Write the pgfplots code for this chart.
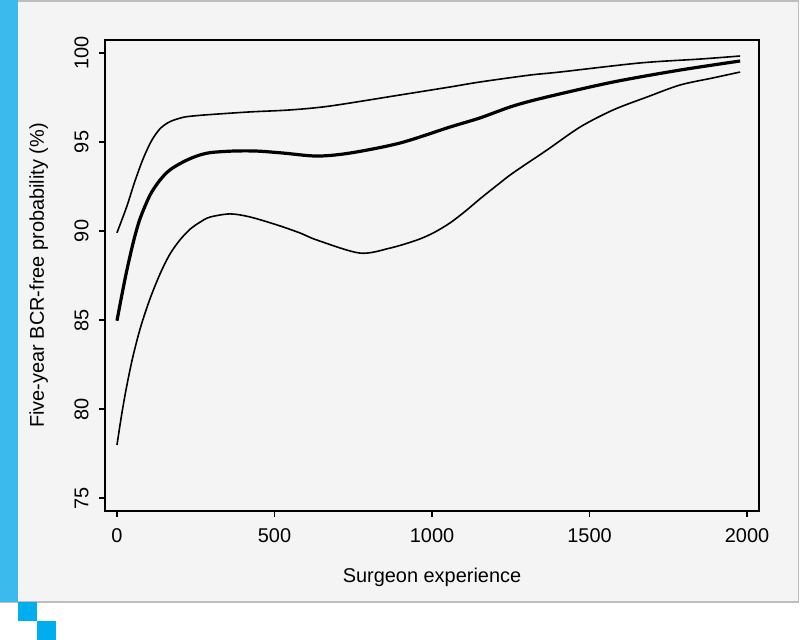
\documentclass[border=0pt]{standalone}
\usepackage{fontspec}
\setmainfont{Liberation Sans}
\usepackage{pgfplots}
\pgfplotsset{compat=1.18}
\definecolor{panel}{HTML}{F4F4F4}
\definecolor{panelborder}{HTML}{BDBDBD}
\definecolor{bluebar}{HTML}{3BBBED}
\definecolor{bluesq}{HTML}{00AEEF}
\begin{document}
\fontsize{10}{12}\selectfont
\begin{tikzpicture}
\useasboundingbox (0,0) rectangle (400bp,320bp);
\fill[panel] (0,19bp) rectangle (399.5bp,320bp);
\draw[panelborder, line width=0.8bp] (0,19bp) -- (399.3bp,19bp) -- (399.3bp,319.6bp) -- (0,319.6bp);
\fill[bluebar] (0,19bp) rectangle (9bp,320bp);
\fill[bluesq] (9bp,9.5bp) rectangle (18.5bp,19bp);
\fill[bluesq] (18.5bp,0) rectangle (28bp,9.5bp);
\begin{axis}[
  at={(52.5bp,64.5bp)}, anchor=south west,
  width=327bp, height=235.5bp, scale only axis,
  xmin=-38, xmax=2038, ymin=74.27, ymax=100.73,
  axis line style={line width=1bp},
  xtick={0,500,1000,1500,2000}, ytick={75,80,85,90,95,100},
  xtick pos=bottom, ytick pos=left,
  tick align=outside, major tick length=3bp,
  every tick/.style={black, line width=0.8bp},
  scaled ticks=false,
  /pgf/number format/1000 sep={},
  /pgf/number format/assume math mode=true,
  xticklabel style={anchor=north, inner sep=0pt, yshift=-5.5bp},
  yticklabel style={xshift=-5bp, rotate=90, anchor=south, inner sep=0pt},
  xlabel={Surgeon experience},
  ylabel={Five-year BCR-free probability (\%)},
  xlabel style={at={(axis description cs:0.5,-0.151)}, anchor=base, inner sep=0pt},
  ylabel style={at={(axis description cs:-0.0933,0.5)}, anchor=base, inner sep=0pt},
]
\addplot[black, line width=0.8bp, smooth] table {
x y
0 89.90
31 91.37
57 92.80
84 94.10
110 95.08
137 95.75
168 96.14
211 96.39
253 96.48
295 96.54
422 96.69
549 96.80
676 97.02
898 97.64
1057 98.09
1152 98.37
1311 98.76
1406 98.93
1660 99.44
1851 99.66
1978 99.83
};
\addplot[black, line width=1.6bp, smooth] table {
x y
0 84.96
16 86.45
32 87.85
53 89.45
73 90.68
105 92.02
137 92.87
168 93.43
211 93.89
253 94.21
295 94.40
368 94.49
444 94.49
527 94.38
635 94.21
740 94.38
898 94.94
1057 95.84
1152 96.35
1257 97.02
1365 97.53
1575 98.37
1787 99.04
1978 99.55
};
\addplot[black, line width=0.8bp, smooth] table {
x y
0 77.98
15 79.70
30 81.20
50 82.90
75 84.60
105 86.20
137 87.60
168 88.70
200 89.50
232 90.10
264 90.50
295 90.78
359 90.96
422 90.79
508 90.34
581 89.89
635 89.49
771 88.76
867 89.04
952 89.49
1005 89.90
1057 90.45
1105 91.10
1152 91.80
1205 92.55
1257 93.26
1365 94.55
1470 95.84
1575 96.80
1683 97.53
1787 98.20
1892 98.60
1978 98.93
};
\end{axis}
\end{tikzpicture}
\end{document}
